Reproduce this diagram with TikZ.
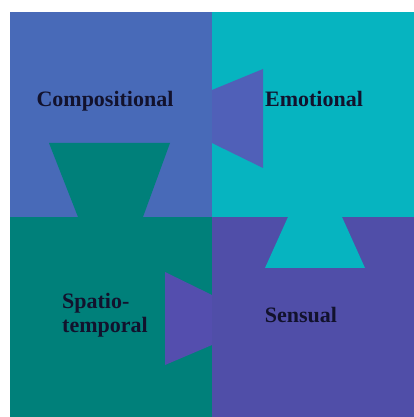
\documentclass[tikz,border=0pt]{standalone}
\usepackage{fontspec}
\setmainfont{Liberation Serif}
\definecolor{compblue}{RGB}{72,106,184}
\definecolor{trapblue}{RGB}{80,96,184}
\definecolor{emocyan}{RGB}{6,180,192}
\definecolor{spateal}{RGB}{0,128,122}
\definecolor{senspurple}{RGB}{80,78,168}
\definecolor{trappurple}{RGB}{84,78,174}
\definecolor{labelink}{RGB}{18,18,45}
\tikzset{
  lbl/.style={font=\fontsize{22}{24}\selectfont\bfseries, text=labelink, inner sep=0pt, anchor=base}
}
\begin{document}
\begin{tikzpicture}[x=1pt,y=1pt]
\useasboundingbox (0,0) rectangle (414,417);
\fill[white] (0,0) rectangle (414,417);
% quadrants
\fill[compblue]   (10,200) rectangle (212,405);
\fill[emocyan]    (212,200) rectangle (414,405);
\fill[spateal]    (10,0) rectangle (212,200);
\fill[senspurple] (212,0) rectangle (414,200);
% trapezoid tabs
\fill[spateal]    (49,274) -- (170,274) -- (143,200) -- (78,200) -- cycle;
\fill[trapblue]   (212,327) -- (263,348) -- (263,249) -- (212,274) -- cycle;
\fill[emocyan]    (288,200) -- (342,200) -- (365,149) -- (265,149) -- cycle;
\fill[trappurple] (212,122) -- (165,145) -- (165,52) -- (212,72) -- cycle;
% labels
\node[lbl] (comp) at (105,310) {Compositional};
\node[lbl] (emo) at (314,310) {Emotional};
\node[lbl] (sens) at (301,94) {Sensual};
\node[lbl, align=left, anchor=north west] (spat) at (62,124) {Spatio-\\temporal};
\end{tikzpicture}
\end{document}
